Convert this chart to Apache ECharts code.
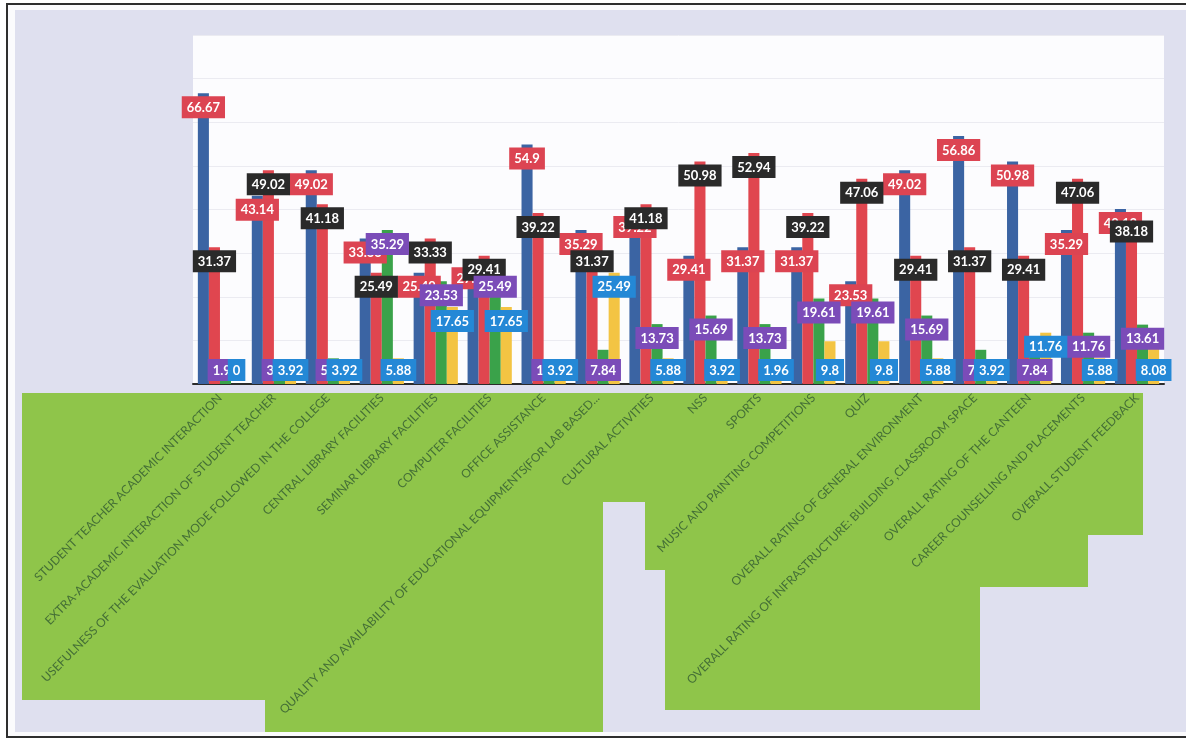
<!DOCTYPE html>
<html>
<head>
<meta charset="utf-8">
<script src="https://cdn.jsdelivr.net/npm/echarts@6/dist/echarts.min.js"></script>
<style>
  html, body { margin: 0; padding: 0; background: #fff; }
  #main { width: 1186px; height: 740px; }
</style>
</head>
<body>
<div id="main"></div>
<script>
// 类别（横轴）
var categories = [
  'STUDENT TEACHER ACADEMIC INTERACTION',
  'EXTRA-ACADEMIC INTERACTION OF STUDENT TEACHER',
  'USEFULNESS OF THE EVALUATION MODE FOLLOWED IN THE COLLEGE',
  'CENTRAL LIBRARY FACILITIES',
  'SEMINAR LIBRARY FACILITIES',
  'COMPUTER FACILITIES',
  'OFFICE ASSISTANCE',
  'QUALITY AND AVAILABILITY OF EDUCATIONAL EQUIPMENTS(FOR LAB BASED...',
  'CULTURAL ACTIVITIES',
  'NSS',
  'SPORTS',
  'MUSIC AND PAINTING COMPETITIONS',
  'QUIZ',
  'OVERALL RATING OF GENERAL ENVIRONMENT',
  'OVERALL RATING OF INFRASTRUCTURE: BUILDING ,CLASSROOM SPACE',
  'OVERALL RATING OF THE CANTEEN',
  'CAREER COUNSELLING AND PLACEMENTS',
  'OVERALL STUDENT FEEDBACK'
];

// 四个系列的数值（%）
var excellent = [66.67, 43.14, 49.02, 33.33, 25.49, 27.45, 54.9, 35.29, 39.22, 29.41, 31.37, 31.37, 23.53, 49.02, 56.86, 50.98, 35.29, 40.13];
var good      = [31.37, 49.02, 41.18, 25.49, 33.33, 29.41, 39.22, 31.37, 41.18, 50.98, 52.94, 39.22, 47.06, 29.41, 31.37, 29.41, 47.06, 38.18];
var average   = [1.96, 3.92, 5.88, 35.29, 23.53, 25.49, 1.96, 7.84, 13.73, 15.69, 13.73, 19.61, 19.61, 15.69, 7.84, 7.84, 11.76, 13.61];
var poor      = [0, 3.92, 3.92, 5.88, 17.65, 17.65, 3.92, 25.49, 5.88, 3.92, 1.96, 9.8, 9.8, 5.88, 3.92, 11.76, 5.88, 8.08];

// y轴刻度
var yMin = 0;
var yMax = 80;
var yStep = 10;

var chart = echarts.init(document.getElementById('main'), null, { renderer: 'canvas' });

// 小数值的标签放到柱子底部
function withLabelPos(values) {
  return values.map(function (v) {
    return {
      value: v,
      label: { position: v < 10 ? 'insideBottom' : 'insideTop' }
    };
  });
}

function makeSeries(name, values, barColor, labelBg) {
  return {
    name: name,
    type: 'bar',
    data: withLabelPos(values),
    barGap: '0%',
    barCategoryGap: '18%',
    itemStyle: { color: barColor },
    label: {
      show: true,
      distance: 3,
      color: '#fff',
      fontFamily: 'Lato',
      fontWeight: 'bold',
      fontSize: 13,
      backgroundColor: labelBg,
      padding: [5, 5, 4, 5]
    }
  };
}

var option = {
  backgroundColor: '#fff',
  animation: false,
  graphic: [
    // 外框 + 淡紫色底
    {
      type: 'rect',
      z: -30,
      shape: { x: 7, y: 4, width: 1190, height: 733 },
      style: { fill: '#fbfbfd', stroke: '#2e2e2e', lineWidth: 2 }
    },
    {
      type: 'rect',
      z: -29,
      shape: { x: 15, y: 10, width: 1171, height: 722 },
      style: { fill: '#dfe0ef' }
    },
    // 标签区的绿色底块
    {
      type: 'polygon',
      z: -28,
      shape: {
        points: [
          [22, 393], [1143, 393], [1143, 535], [1088, 535], [1088, 587],
          [980, 587], [980, 710], [665, 710], [665, 570], [645, 570],
          [645, 502], [603, 502], [603, 732], [265, 732], [265, 700], [22, 700]
        ]
      },
      style: { fill: '#8fc54a' }
    }
  ],
  grid: {
    show: true,
    backgroundColor: '#fcfcfe',
    borderWidth: 0,
    left: 193,
    right: 22,
    top: 35,
    bottom: 356
  },
  xAxis: {
    type: 'category',
    data: categories,
    axisTick: { show: false },
    axisLine: { lineStyle: { color: '#2b2b2b', width: 2 } },
    axisLabel: {
      interval: 0,
      rotate: 45,
      margin: 12,
      color: '#446f36',
      fontFamily: 'Lato',
      fontSize: 12
    }
  },
  yAxis: {
    type: 'value',
    min: yMin,
    max: yMax,
    interval: yStep,
    axisLabel: { show: false },
    axisLine: { show: false },
    axisTick: { show: false },
    splitLine: { lineStyle: { color: '#ebebf1', width: 1 } }
  },
  series: [
    makeSeries('Excellent', excellent, '#3b64a3', '#dc4452'),
    makeSeries('Good', good, '#e0464f', '#2a2a2a'),
    makeSeries('Average', average, '#3aa24a', '#7b4cb8'),
    makeSeries('Poor', poor, '#f3c443', '#2488d6')
  ]
};

chart.setOption(option);
</script>
</body>
</html>
